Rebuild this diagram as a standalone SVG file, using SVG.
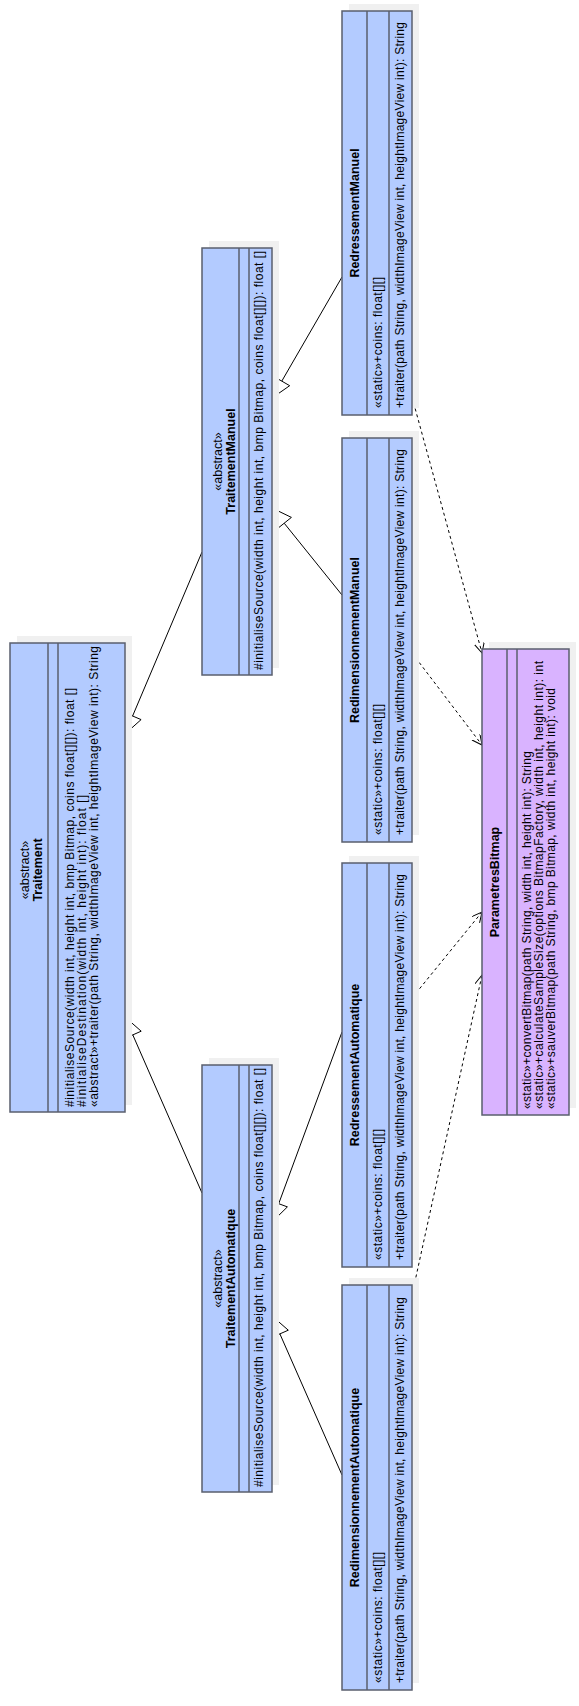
<svg xmlns="http://www.w3.org/2000/svg" width="579" height="1706" viewBox="0 0 579 1706">
<defs>
<marker id="open" markerWidth="12" markerHeight="12" refX="10" refY="5" orient="auto" markerUnits="userSpaceOnUse"><path d="M0,0 L10,5 L0,10" fill="none" stroke="#000" stroke-width="1"/></marker>
</defs>
<style>
.sh{fill:#f0f0f0}
.box{fill:#b3cbff;stroke:#5a5f6e;stroke-width:1.5}
.pbox{fill:#d9b3ff;stroke:#5a5f6e;stroke-width:1.5}
.dv{stroke:#5a5f6e;stroke-width:1.5}
text{font-family:"Liberation Sans",Arial,sans-serif;font-size:12px;fill:#000}
.nm{font-weight:bold;text-anchor:middle;font-size:12.5px}
.st{text-anchor:middle;font-size:12.5px}
.gen{stroke:#000;stroke-width:1;fill:none}
.tri{fill:#fff;stroke:#000;stroke-width:1}
.dep{stroke:#000;stroke-width:1;fill:none;stroke-dasharray:3,3;marker-end:url(#open)}
</style>
<rect width="579" height="1706" fill="#fff"/>
<g id="connectors">
<line class="gen" x1="202" y1="552" x2="132.6" y2="716"/>
<polygon class="tri" points="125,734 124.1,712.4 141.1,719.6"/>
<line class="gen" x1="202" y1="1193" x2="132.8" y2="1034.9"/>
<polygon class="tri" points="125,1017 141.2,1031.2 124.4,1038.6"/>
<line class="gen" x1="342" y1="277" x2="281.8" y2="381.1"/>
<polygon class="tri" points="272,398 273.8,376.5 289.7,385.7"/>
<line class="gen" x1="342" y1="595" x2="284.2" y2="523.2"/>
<polygon class="tri" points="272,508 291.4,517.4 277,529"/>
<line class="gen" x1="342" y1="1032" x2="278.7" y2="1203.7"/>
<polygon class="tri" points="272,1222 270.1,1200.5 287.4,1206.9"/>
<line class="gen" x1="342" y1="1475" x2="279.9" y2="1333.9"/>
<polygon class="tri" points="272,1316 288.3,1330.2 271.4,1337.6"/>
<line class="dep" x1="412" y1="397" x2="482" y2="653"/>
<line class="dep" x1="412" y1="653" x2="482" y2="745"/>
<line class="dep" x1="412" y1="998" x2="482" y2="912"/>
<line class="dep" x1="412" y1="1295" x2="482" y2="975"/>
</g>
<g id="Traitement">
<rect class="sh" x="17" y="636" width="115" height="469"/>
<rect class="box" x="10" y="643" width="115" height="469"/>
<line class="dv" x1="48" y1="643" x2="48" y2="1112"/>
<line class="dv" x1="58" y1="643" x2="58" y2="1112"/>
<text class="st" transform="translate(29,870) rotate(-90)">«abstract»</text>
<text class="nm" transform="translate(42,870) rotate(-90)">Traitement</text>
<text transform="translate(74,1107) rotate(-90)" textLength="419">#initialiseSource(width int, height int, bmp Bitmap, coins float[][]): float []</text>
<text transform="translate(86,1107) rotate(-90)" textLength="312">#initialiseDestination(width int, height int): float []</text>
<text transform="translate(98,1107) rotate(-90)" textLength="461">«abstract»+traiter(path String, widthImageView int, heightImageView int): String</text>
</g>
<g id="TraitementManuel">
<rect class="sh" x="209" y="241" width="70" height="427"/>
<rect class="box" x="202" y="248" width="70" height="427"/>
<line class="dv" x1="239" y1="248" x2="239" y2="675"/>
<line class="dv" x1="249" y1="248" x2="249" y2="675"/>
<text class="st" transform="translate(222,461.5) rotate(-90)">«abstract»</text>
<text class="nm" transform="translate(235,461.5) rotate(-90)">TraitementManuel</text>
<text transform="translate(263,670) rotate(-90)" textLength="419">#initialiseSource(width int, height int, bmp Bitmap, coins float[][]): float []</text>
</g>
<g id="TraitementAutomatique">
<rect class="sh" x="209" y="1058" width="70" height="427"/>
<rect class="box" x="202" y="1065" width="70" height="427"/>
<line class="dv" x1="239" y1="1065" x2="239" y2="1492"/>
<line class="dv" x1="249" y1="1065" x2="249" y2="1492"/>
<text class="st" transform="translate(222,1278.5) rotate(-90)">«abstract»</text>
<text class="nm" transform="translate(235,1278.5) rotate(-90)">TraitementAutomatique</text>
<text transform="translate(263,1487) rotate(-90)" textLength="419">#initialiseSource(width int, height int, bmp Bitmap, coins float[][]): float []</text>
</g>
<g id="RedressementManuel">
<rect class="sh" x="349" y="4" width="70" height="404"/>
<rect class="box" x="342" y="11" width="70" height="404"/>
<line class="dv" x1="367" y1="11" x2="367" y2="415"/>
<line class="dv" x1="389" y1="11" x2="389" y2="415"/>
<text class="nm" transform="translate(359,213) rotate(-90)">RedressementManuel</text>
<text transform="translate(382,408) rotate(-90)" textLength="131">«static»+coins: float[][]</text>
<text transform="translate(404,408) rotate(-90)" textLength="386">+traiter(path String, widthImageView int, heightImageView int): String</text>
</g>
<g id="RedimensionnementManuel">
<rect class="sh" x="349" y="431" width="70" height="404"/>
<rect class="box" x="342" y="438" width="70" height="404"/>
<line class="dv" x1="367" y1="438" x2="367" y2="842"/>
<line class="dv" x1="389" y1="438" x2="389" y2="842"/>
<text class="nm" transform="translate(359,640) rotate(-90)">RedimensionnementManuel</text>
<text transform="translate(382,835) rotate(-90)" textLength="131">«static»+coins: float[][]</text>
<text transform="translate(404,835) rotate(-90)" textLength="386">+traiter(path String, widthImageView int, heightImageView int): String</text>
</g>
<g id="RedressementAutomatique">
<rect class="sh" x="349" y="856" width="70" height="404"/>
<rect class="box" x="342" y="863" width="70" height="404"/>
<line class="dv" x1="367" y1="863" x2="367" y2="1267"/>
<line class="dv" x1="389" y1="863" x2="389" y2="1267"/>
<text class="nm" transform="translate(359,1065) rotate(-90)">RedressementAutomatique</text>
<text transform="translate(382,1260) rotate(-90)" textLength="131">«static»+coins: float[][]</text>
<text transform="translate(404,1260) rotate(-90)" textLength="386">+traiter(path String, widthImageView int, heightImageView int): String</text>
</g>
<g id="RedimensionnementAutomatique">
<rect class="sh" x="349" y="1278" width="70" height="405"/>
<rect class="box" x="342" y="1285" width="70" height="405"/>
<line class="dv" x1="367" y1="1285" x2="367" y2="1690"/>
<line class="dv" x1="389" y1="1285" x2="389" y2="1690"/>
<text class="nm" transform="translate(359,1487.5) rotate(-90)">RedimensionnementAutomatique</text>
<text transform="translate(382,1683) rotate(-90)" textLength="131">«static»+coins: float[][]</text>
<text transform="translate(404,1683) rotate(-90)" textLength="386">+traiter(path String, widthImageView int, heightImageView int): String</text>
</g>
<g id="ParametresBitmap">
<rect class="sh" x="489" y="642" width="87" height="466"/>
<rect class="pbox" x="482" y="649" width="87" height="466"/>
<line class="dv" x1="507" y1="649" x2="507" y2="1115"/>
<line class="dv" x1="517" y1="649" x2="517" y2="1115"/>
<text class="nm" transform="translate(499,882) rotate(-90)">ParametresBitmap</text>
<text transform="translate(531,1109) rotate(-90)" textLength="358">«static»+convertBitmap(path String, width int, height int): String</text>
<text transform="translate(543,1109) rotate(-90)" textLength="448">«static»+calculateSampleSize(options BitmapFactory, width int, height int): int</text>
<text transform="translate(555,1109) rotate(-90)" textLength="421">«static»+sauverBitmap(path String, bmp Bitmap, width int, height int): void</text>
</g>
</svg>
